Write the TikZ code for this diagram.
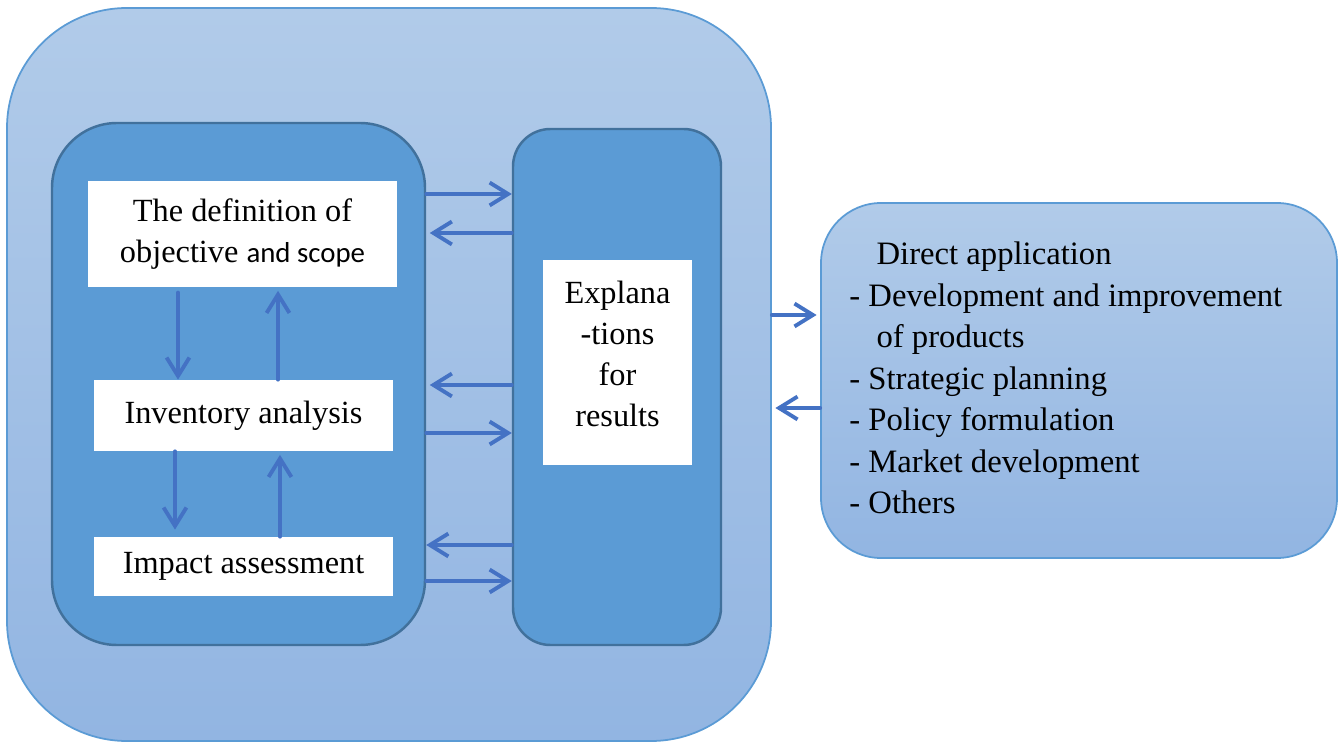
\documentclass[tikz,border=0pt]{standalone}
\usepackage{fontspec}
\setmainfont{Liberation Serif}
\newfontfamily\calibrifont{Carlito}
\usetikzlibrary{arrows.meta,fit}

\definecolor{paleTop}{HTML}{B1CBE9}
\definecolor{paleBot}{HTML}{92B5E2}
\definecolor{paleLine}{HTML}{5B9BD5}
\definecolor{midFill}{HTML}{5B9BD5}
\definecolor{midLine}{HTML}{41719C}
\definecolor{flowBlue}{HTML}{4472C4}

\tikzset{
  panel/.style={draw=paleLine, line width=1pt, top color=paleTop, bottom color=paleBot,
                inner sep=0pt, rounded corners=#1},
  column/.style={draw=midLine, line width=1.4pt, fill=midFill, inner sep=0pt, rounded corners=#1},
  whitebox/.style={fill=white, draw=none, inner sep=0pt, align=center,
                   font=\fontsize{18.4pt}{23.5pt}\selectfont},
  flow/.style={draw=flowBlue, line width=2.2pt, line cap=round,
               -{Straight Barb[length=10.5pt,width=13pt,line width=2.2pt]}},
  listtext/.style={align=left, inner sep=0pt, font=\fontsize{18.6pt}{23.6pt}\selectfont}
}

\begin{document}
\begin{tikzpicture}[x=0.02cm,y=-0.02cm]
  \useasboundingbox (0,0) rectangle (1344,742);
  \begin{scope}
    \clip (0,0) rectangle (1344,742);
    % outer study frame
    \node[panel=2.4cm, fit={(7,8) (771,741)}] (outer) {};
  \end{scope}

  % the three phases and the interpretation column
  \node[column=1.3cm, fit={(52,123) (425,645)}] (phases) {};
  \node[column=0.75cm, fit={(513,129) (721,645)}] (interp) {};

  \node[whitebox, minimum width=6.18cm, minimum height=2.12cm] (goal) at (242.5,234)
    {The definition of\\objective {\calibrifont\fontsize{16.4pt}{23.5pt}\selectfont and scope}};
  \node[whitebox, minimum width=5.98cm, minimum height=1.42cm] (inv) at (243.5,415.5)
    {Inventory analysis};
  \node[whitebox, minimum width=5.98cm, minimum height=1.18cm] (impact) at (243.5,566.5)
    {Impact assessment};
  \node[whitebox, minimum width=2.98cm, minimum height=4.1cm] (expl) at (617.5,362.5) {};
  \node[whitebox, fill=none] (expltext) at (617.5,354)
    {Explana\\-tions\\for\\results};

  % applications
  \node[panel=1.2cm, fit={(821,203) (1337,558)}] (apps) {};
  \node[listtext, anchor=west] (appstext) at (849,378)
    {\hspace*{15.5pt}Direct application\\
     - Development and improvement\\
     \hspace*{15.5pt}of products\\
     - Strategic planning\\
     - Policy formulation\\
     - Market development\\
     - Others};

  % phases <-> interpretation
  \draw[flow] (phases.east |- 0,194) -- (interp.west |- 0,194);
  \draw[flow] (interp.west |- 0,233) -- ([xshift=2pt]phases.east |- 0,233);
  \draw[flow] (interp.west |- 0,385) -- ([xshift=2pt]phases.east |- 0,385);
  \draw[flow] (phases.east |- 0,433) -- (interp.west |- 0,433);
  \draw[flow] (interp.west |- 0,545) -- (phases.east |- 0,545);
  \draw[flow] (phases.east |- 0,581) -- (interp.west |- 0,581);

  % iterations between phases
  \draw[flow] ([yshift=-3pt]goal.south -| 178,0) -- (inv.north -| 178,0);
  \draw[flow] (inv.north -| 278,0) -- ([yshift=-2pt]goal.south -| 278,0);
  \draw[flow] (inv.south -| 175,0) -- ([yshift=4pt]impact.north -| 175,0);
  \draw[flow] (impact.north -| 280,0) -- ([yshift=-2pt]inv.south -| 280,0);

  % frame <-> applications
  \draw[flow] (outer.east |- 0,315) -- ([xshift=-2pt]apps.west |- 0,315);
  \draw[flow] (apps.west |- 0,408) -- ([xshift=2pt]outer.east |- 0,408);
\end{tikzpicture}
\end{document}
